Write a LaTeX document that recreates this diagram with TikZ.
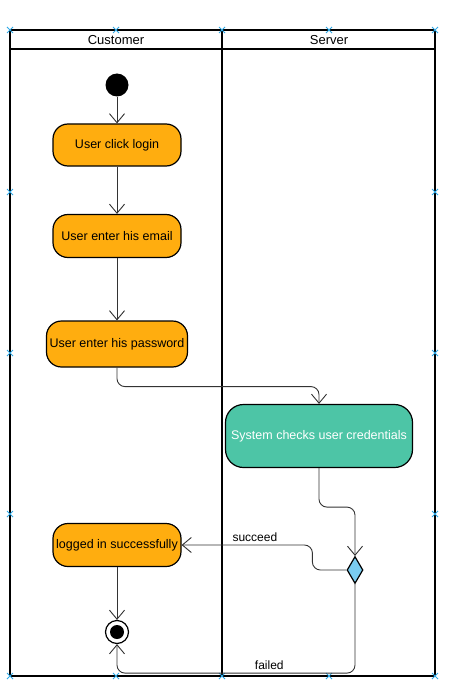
\documentclass[tikz,border=0pt]{standalone}
\usepackage{fontspec}
\setmainfont{Liberation Sans}
\usetikzlibrary{arrows.meta,shapes.geometric}

\definecolor{actorange}{HTML}{FFAD0F}
\definecolor{actgreen}{HTML}{4DC5A6}
\definecolor{decblue}{HTML}{7ACCF0}
\definecolor{handleblue}{HTML}{2EA8E6}

\tikzset{
  activity/.style={draw, line width=1.2pt, rounded corners=15pt, fill=actorange,
    inner sep=1pt, font=\fontsize{12.5}{15}\selectfont},
  flow/.style={line width=0.9pt, draw=black!80, rounded corners=8pt,
    -{Straight Barb[length=9pt,width=15pt,line width=0.9pt]}},
  pool/.style={line width=2pt},
  handle/.style={draw=handleblue, line width=0.9pt}
}

\begin{document}
\begin{tikzpicture}[x=1pt,y=-1pt]
    \useasboundingbox (0,0) rectangle (459,698);

    % draw the pool with its two lanes
    \draw [pool] (10,30) rectangle (435,676);
    \draw [pool] (10,49) -- (435,49);
    \draw [pool] (222,30) -- (222,676);
    \node [font=\fontsize{13}{15}\selectfont] (laneC) at (116,40.5) {Customer};
    \node [font=\fontsize{13}{15}\selectfont] (laneS) at (329,40.5) {Server};

    % selection handles
    \foreach \x in {10,116,222,329,435} {
      \draw [handle] (\x-3,27) -- (\x+3,33) (\x-3,33) -- (\x+3,27);
      \draw [handle] (\x-3,673) -- (\x+3,679) (\x-3,679) -- (\x+3,673);
    }
    \foreach \y in {192,353,514} {
      \draw [handle] (7,\y-3) -- (13,\y+3) (7,\y+3) -- (13,\y-3);
      \draw [handle] (432,\y-3) -- (438,\y+3) (432,\y+3) -- (438,\y-3);
    }

    % activities
    \node [circle, fill=black, minimum size=23pt, inner sep=0] (start) at (117,85) {};
    \node [activity, minimum width=128pt, minimum height=42pt] (click) at (117,145) {User click login};
    \node [activity, minimum width=128pt, minimum height=43pt] (email) at (117,236) {User enter his email};
    \node [activity, minimum width=141pt, minimum height=46pt] (pass) at (117,344) {User enter his password};
    \node [activity, fill=actgreen, text=white, rounded corners=18pt,
      minimum width=187pt, minimum height=63pt] (check) at (319,436) {System checks user credentials};
    \node [diamond, draw, fill=decblue, line width=1.2pt, inner sep=0,
      minimum width=16pt, minimum height=27pt] (dec) at (355,570) {};
    \node [activity, minimum width=128pt, minimum height=43pt] (ok) at (117,545) {logged in successfully};
    \node [circle, draw, fill=white, line width=1.2pt, minimum size=23pt, inner sep=0] (stop) at (117,632) {};
    \node [circle, fill=black, minimum size=14pt, inner sep=0] (stopdot) at (stop) {};

    % control flow
    \draw [flow] (start) -- (click);
    \draw [flow] (click) -- (email);
    \draw [flow] (email) -- (pass);
    \draw [flow] (pass.south) -- ++(0,19) -| (check.north);
    \draw [flow] (check.south) -- ++(0,39) -| (dec.north);
    \draw [flow] (dec.west) -- ++(-34,0) |- (ok.east)
      node [pos=0.72, above, font=\fontsize{12}{14}\selectfont] {succeed};
    \draw [flow] (dec.south) -- ++(0,89) -| (stop.south)
      node [pos=0.18, above, font=\fontsize{12}{14}\selectfont] {failed};
    \draw [flow] (ok) -- (stop);

\end{tikzpicture}
\end{document}
